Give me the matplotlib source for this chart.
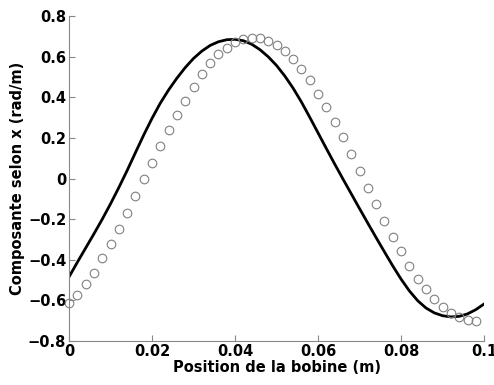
import numpy as np
import matplotlib
matplotlib.use("Agg")
import matplotlib.pyplot as plt

# Measured (circles)
x_meas = [0.000, 0.002, 0.004, 0.006, 0.008, 0.010, 0.012, 0.014, 0.016, 0.018,
          0.020, 0.022, 0.024, 0.026, 0.028, 0.030, 0.032, 0.034, 0.036, 0.038,
          0.040, 0.042, 0.044, 0.046, 0.048, 0.050, 0.052, 0.054, 0.056, 0.058,
          0.060, 0.062, 0.064, 0.066, 0.068, 0.070, 0.072, 0.074, 0.076, 0.078,
          0.080, 0.082, 0.084, 0.086, 0.088, 0.090, 0.092, 0.094, 0.096, 0.098]
y_meas = [-0.613, -0.574, -0.520, -0.464, -0.393, -0.324, -0.247, -0.171, -0.086, -0.004,
          0.075, 0.162, 0.239, 0.313, 0.383, 0.449, 0.513, 0.567, 0.612, 0.641,
          0.671, 0.687, 0.694, 0.691, 0.677, 0.658, 0.630, 0.587, 0.539, 0.485,
          0.418, 0.351, 0.277, 0.203, 0.121, 0.038, -0.045, -0.126, -0.208, -0.287,
          -0.356, -0.428, -0.492, -0.544, -0.592, -0.633, -0.661, -0.682, -0.697, -0.700]

# Model (solid line)
x_model = [0.000, 0.002, 0.004, 0.006, 0.008, 0.010, 0.012, 0.014, 0.016, 0.018,
           0.020, 0.022, 0.024, 0.026, 0.028, 0.030, 0.032, 0.034, 0.036, 0.038,
           0.040, 0.042, 0.044, 0.046, 0.048, 0.050, 0.052, 0.054, 0.056, 0.058,
           0.060, 0.062, 0.064, 0.066, 0.068, 0.070, 0.072, 0.074, 0.076, 0.078,
           0.080, 0.082, 0.084, 0.086, 0.088, 0.090, 0.092, 0.094, 0.096, 0.098, 0.100]
y_model = [-0.484, -0.412, -0.342, -0.272, -0.200, -0.124, -0.044, 0.040, 0.128, 0.215,
           0.297, 0.372, 0.437, 0.495, 0.547, 0.592, 0.628, 0.656, 0.674, 0.684,
           0.686, 0.679, 0.662, 0.635, 0.600, 0.557, 0.505, 0.445, 0.377, 0.302,
           0.225, 0.148, 0.072, -0.002, -0.075, -0.148, -0.220, -0.291, -0.361, -0.430,
           -0.495, -0.553, -0.601, -0.637, -0.661, -0.675, -0.681, -0.678, -0.666, -0.645, -0.617]

xticks = [0, 0.02, 0.04, 0.06, 0.08, 0.1]
xtick_labels = ["0", "0.02", "0.04", "0.06", "0.08", "0.1"]
yticks = [-0.8, -0.6, -0.4, -0.2, 0, 0.2, 0.4, 0.6, 0.8]
ytick_labels = ["\u22120.8", "\u22120.6", "\u22120.4", "\u22120.2", "0", "0.2", "0.4", "0.6", "0.8"]

plt.rcParams['font.family'] = ['DejaVu Sans']
fig = plt.figure(figsize=(4.94, 3.85), dpi=100)
ax = fig.add_axes([0.1397, 0.114, 0.8403, 0.844])

ax.plot(x_model, y_model, color='black', lw=2.0, zorder=2)
ax.plot(x_meas, y_meas, linestyle='none', marker='o', markersize=6.2,
        markerfacecolor='none', markeredgecolor='#808080', markeredgewidth=0.8, zorder=3,
        clip_on=False)

ax.set_xlim(0, 0.1)
ax.set_ylim(-0.8, 0.8)
ax.set_xticks(xticks)
ax.set_xticklabels(xtick_labels, fontweight='bold', fontsize=10.5)
ax.set_yticks(yticks)
ax.set_yticklabels(ytick_labels, fontweight='bold', fontsize=10.5)
ax.tick_params(direction='in', length=4, width=0.8, color='#888888', pad=2)
for s in ['top', 'right']:
    ax.spines[s].set_visible(False)
for s in ['left', 'bottom']:
    ax.spines[s].set_color('#888888')
    ax.spines[s].set_linewidth(0.8)

ax.set_xlabel('Position de la bobine (m)', fontweight='bold', fontsize=10.5, labelpad=1)
ax.set_ylabel('Composante selon x (rad/m)', fontweight='bold', fontsize=10.5, labelpad=2)

fig.savefig('out.png', dpi=100)
